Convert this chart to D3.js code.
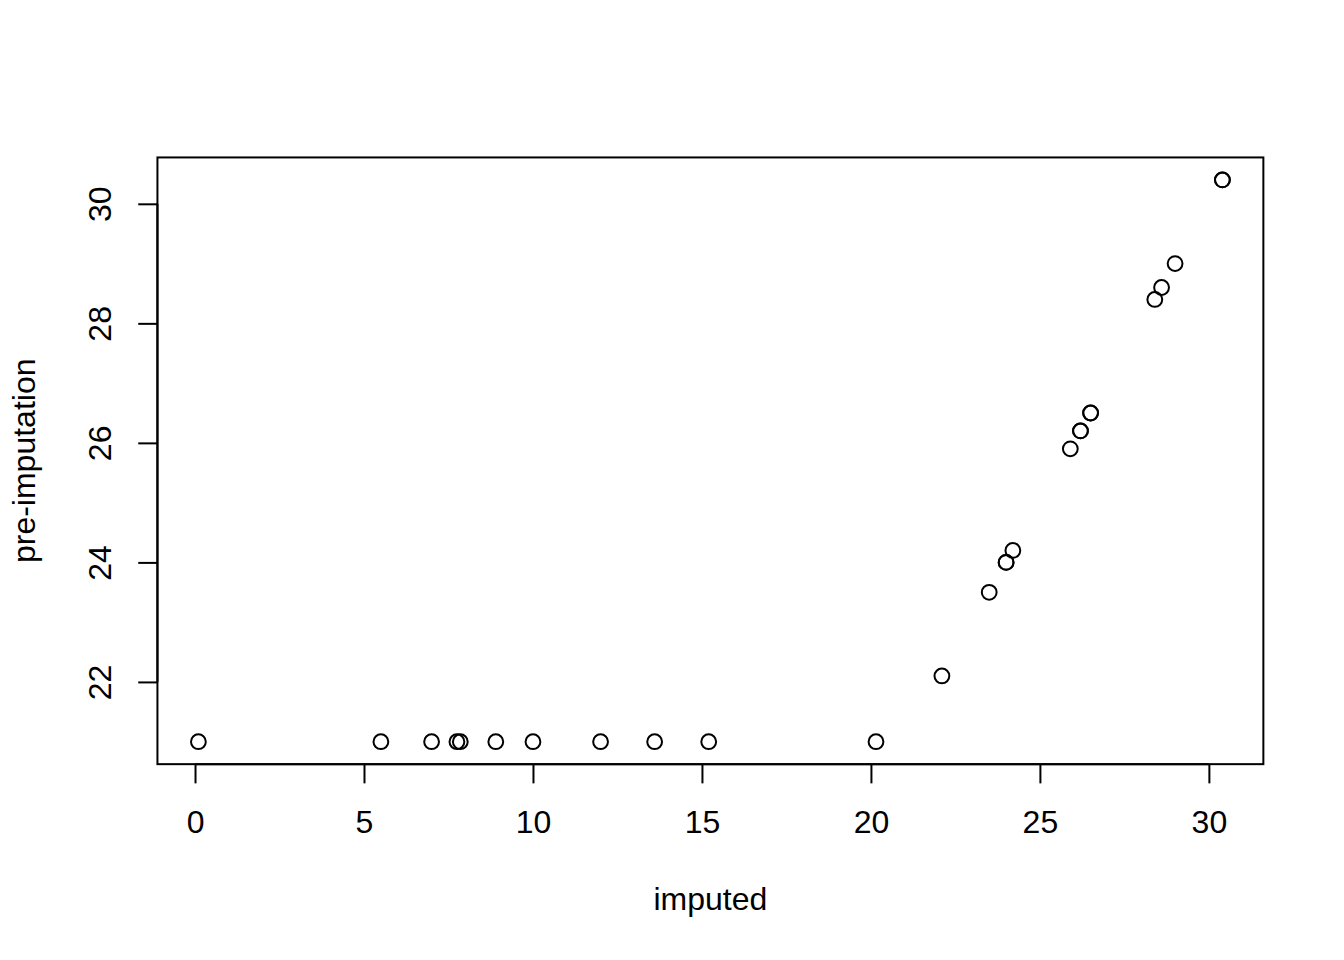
<!DOCTYPE html>
<html>
<head>
<meta charset="utf-8">
<script src="https://cdn.jsdelivr.net/npm/d3@7"></script>
<style>
  html, body { margin: 0; padding: 0; background: #ffffff; }
  svg { display: block; }
  text { font-family: "Liberation Sans", Arial, Helvetica, sans-serif; fill: #000; }
</style>
</head>
<body>
<svg id="chart" width="1344" height="960"></svg>
<script>
// ---- data ----
const imputed = [0.1, 5.5, 7.0, 7.75, 7.85, 8.9, 10.0, 12.0, 13.6, 15.2, 20.15,
                 22.1, 23.5, 24.0, 24.0, 24.2, 25.9, 26.2, 26.2, 26.5, 26.5,
                 28.4, 28.6, 29.0, 30.4, 30.4];
const preImputation = [21, 21, 21, 21, 21, 21, 21, 21, 21, 21, 21,
                       22.1, 23.5, 24.0, 24.0, 24.2, 25.9, 26.2, 26.2, 26.5, 26.5,
                       28.4, 28.6, 29.0, 30.4, 30.4];
const xTicks = [0, 5, 10, 15, 20, 25, 30];
const yTicks = [22, 24, 26, 28, 30];
const xTitle = "imputed";
const yTitle = "pre-imputation";

(function () {
  // ---- layout (R default margins at 192 dpi: 1 line = 38.4px) ----
  const W = 1344, H = 960, LINE = 38.4;
  const pL = 4.1 * LINE, pR = W - 2.1 * LINE, pT = 4.1 * LINE, pB = H - 5.1 * LINE;
  const FS = 32, LW = 2;

  function rExtent(v) {
    const [a, b] = d3.extent(v);
    const d = (b - a) * 0.04;
    return [a - d, b + d];
  }

  const x = d3.scaleLinear().domain(rExtent(imputed)).range([pL, pR]);
  const y = d3.scaleLinear().domain(rExtent(preImputation)).range([pB, pT]);

  const svg = d3.select("#chart");
  svg.append("rect").attr("width", W).attr("height", H).attr("fill", "#fff");

  // box
  svg.append("rect")
    .attr("x", pL).attr("y", pT)
    .attr("width", pR - pL).attr("height", pB - pT)
    .attr("fill", "none").attr("stroke", "#000").attr("stroke-width", LW);

  // x axis
  const gx = svg.append("g").attr("transform", `translate(0,${pB})`)
    .call(d3.axisBottom(x).tickValues(xTicks).tickSize(0.5 * LINE).tickSizeOuter(0).tickFormat(d3.format("d")));
  gx.select(".domain").remove();
  gx.append("line")
    .attr("x1", x(xTicks[0])).attr("x2", x(xTicks[xTicks.length - 1]))
    .attr("stroke", "#000").attr("stroke-width", LW);
  gx.selectAll(".tick line").attr("stroke", "#000").attr("stroke-width", LW);
  gx.selectAll(".tick text")
    .attr("y", 1.8 * LINE).attr("dy", 0)
    .attr("font-size", FS).attr("font-family", "Liberation Sans, Arial, sans-serif")
    .attr("fill", "#000");

  // y axis
  const gy = svg.append("g").attr("transform", `translate(${pL},0)`)
    .call(d3.axisLeft(y).tickValues(yTicks).tickSize(0.5 * LINE).tickSizeOuter(0).tickFormat(d3.format("d")));
  gy.select(".domain").remove();
  gy.append("line")
    .attr("y1", y(yTicks[0])).attr("y2", y(yTicks[yTicks.length - 1]))
    .attr("stroke", "#000").attr("stroke-width", LW);
  gy.selectAll(".tick line").attr("stroke", "#000").attr("stroke-width", LW);
  gy.selectAll(".tick text")
    .attr("transform", "rotate(-90)")
    .attr("x", 0).attr("y", -1.2 * LINE).attr("dy", 0)
    .attr("text-anchor", "middle")
    .attr("font-size", FS).attr("font-family", "Liberation Sans, Arial, sans-serif")
    .attr("fill", "#000");

  // titles
  svg.append("text")
    .attr("x", (pL + pR) / 2).attr("y", pB + 3.8 * LINE)
    .attr("text-anchor", "middle").attr("font-size", FS)
    .text(xTitle);
  svg.append("text")
    .attr("transform", `translate(${pL - 3.2 * LINE},${(pT + pB) / 2}) rotate(-90)`)
    .attr("text-anchor", "middle").attr("font-size", FS)
    .text(yTitle);

  // points (pch = 1)
  const pts = imputed.map((v, i) => [v, preImputation[i]]);
  svg.append("g").selectAll("circle").data(pts).join("circle")
    .attr("cx", d => x(d[0])).attr("cy", d => y(d[1]))
    .attr("r", 7.4)
    .attr("fill", "none").attr("stroke", "#000").attr("stroke-width", 2);
})();
</script>
</body>
</html>
